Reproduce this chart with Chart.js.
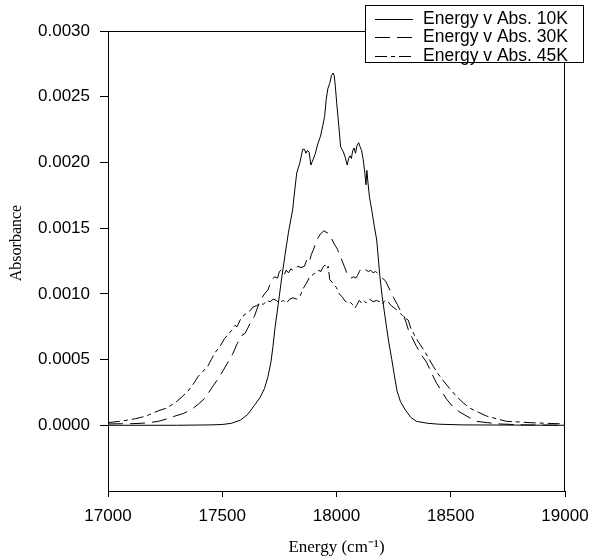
<!DOCTYPE html>
<html><head><meta charset="utf-8">
<script src="https://cdn.jsdelivr.net/npm/chart.js@4/dist/chart.umd.min.js"></script>
<style>html,body{margin:0;padding:0;background:#fff;}#wrap{width:590px;height:559px;position:relative;}</style>
</head><body><div id="wrap"><canvas id="c" width="590" height="559"></canvas></div>
<script>
// ---- data ----
const seriesLabels = ['Energy v Abs. 10K', 'Energy v Abs. 30K', 'Energy v Abs. 45K'];

const energy10 = [17000,17300,17450,17500,17540,17580,17610,17640,17665,17685,17700,17713,17722,17730,17745,17760,17775,17790,17808,17818,17826,17840,17852,17860,17866,17872,17880,17888,17897,17906,17918,17930,17940,17948,17955,17962,17970,17978,17985,17990,17995,18001,18010,18018,18024,18030,18038,18047,18053,18059,18065,18071,18077,18083,18090,18097,18103,18110,18117,18124,18129,18133,18137,18144,18154,18165,18176,18190,18200,18212,18228,18242,18255,18265,18280,18300,18325,18350,18400,18450,18550,19000];
const abs10 = [0,0,0.000003,0.000006,0.000015,0.00004,0.00008,0.00015,0.00021,0.00028,0.00037,0.00048,0.0006,0.00073,0.00092,0.00112,0.0013,0.00147,0.00164,0.0018,0.00192,0.002,0.0021,0.0021,0.00207,0.00209,0.00208,0.00198,0.00202,0.00206,0.00214,0.0022,0.00228,0.00235,0.00248,0.00256,0.0026,0.00266,0.00268,0.00266,0.00258,0.00245,0.00228,0.00212,0.0021,0.00208,0.00204,0.00198,0.00203,0.00205,0.00203,0.00209,0.00211,0.00207,0.00213,0.00215,0.00212,0.00209,0.00202,0.00192,0.00183,0.00194,0.00186,0.00174,0.00164,0.00152,0.00141,0.00113,0.00098,0.00083,0.00064,0.0005,0.00036,0.00026,0.00018,0.00012,0.00006,0.00003,0.000015,0.000008,0.000003,0];

const energy30 = [17000,17060,17100,17145,17180,17220,17260,17293,17330,17365,17395,17420,17437,17460,17481,17505,17525,17545,17565,17583,17600,17612,17628,17641,17655,17670,17685,17700,17715,17729,17742,17750,17758,17770,17780,17790,17800,17816,17830,17845,17860,17870,17880,17890,17900,17910,17920,17932,17945,17954,17965,17975,17990,18004,18015,18025,18034,18045,18055,18063,18075,18085,18092,18100,18110,18121,18130,18140,18150,18160,18170,18179,18190,18200,18214,18225,18236,18250,18266,18280,18295,18305,18314,18330,18350,18370,18394,18415,18438,18460,18481,18510,18540,18580,18613,18660,18716,18818,19000];
const abs30 = [0.00001,0.000012,0.000012,0.000015,0.00002,0.00003,0.00005,0.00007,0.00009,0.00012,0.00016,0.0002,0.00024,0.0003,0.00035,0.00042,0.00048,0.00054,0.00062,0.00068,0.0007,0.00074,0.0008,0.00083,0.0009,0.00096,0.001,0.00103,0.0011,0.00113,0.00112,0.00117,0.00118,0.00114,0.00118,0.00116,0.00119,0.00117,0.00121,0.0012,0.00121,0.00126,0.00124,0.0013,0.00134,0.00139,0.00143,0.00146,0.00148,0.00147,0.00146,0.00143,0.00138,0.00134,0.00129,0.00125,0.00121,0.00116,0.00113,0.00112,0.00113,0.00112,0.00114,0.00117,0.0012,0.00119,0.00118,0.00117,0.00118,0.00116,0.00117,0.00116,0.00115,0.00112,0.0011,0.00106,0.00102,0.00097,0.00092,0.00087,0.00083,0.00078,0.00073,0.00067,0.0006,0.00054,0.00048,0.0004,0.00032,0.00026,0.0002,0.00014,0.0001,0.00006,0.00003,0.00002,0.00001,0.000003,0];

const energy45 = [17000,17050,17087,17120,17145,17180,17220,17255,17293,17320,17350,17372,17394,17415,17437,17452,17467,17490,17510,17525,17540,17555,17565,17578,17590,17605,17621,17635,17650,17665,17680,17695,17710,17723,17737,17750,17765,17781,17795,17810,17825,17840,17854,17868,17883,17900,17919,17932,17940,17949,17958,17964,17970,17985,17999,18012,18028,18040,18057,18070,18080,18087,18100,18110,18120,18130,18145,18160,18175,18189,18200,18212,18225,18240,18255,18262,18280,18291,18305,18314,18325,18343,18360,18379,18400,18423,18445,18467,18495,18525,18555,18584,18620,18657,18700,18744,18800,18847,18920,19000];
const abs45 = [0.00002,0.00003,0.00004,0.00005,0.00006,0.00008,0.00011,0.00013,0.00017,0.00021,0.00026,0.00031,0.00037,0.00041,0.00045,0.0005,0.00055,0.0006,0.00066,0.00069,0.00072,0.00076,0.00075,0.0008,0.00083,0.00085,0.00087,0.0009,0.00091,0.00093,0.00092,0.00095,0.00094,0.00096,0.00095,0.00093,0.00095,0.00093,0.00096,0.00097,0.00096,0.00098,0.00104,0.00108,0.00113,0.00115,0.00118,0.00117,0.0012,0.00122,0.00119,0.00121,0.00111,0.00108,0.00105,0.001,0.00097,0.00094,0.00094,0.00092,0.00089,0.00091,0.00095,0.00093,0.00095,0.00093,0.00096,0.00094,0.00095,0.00094,0.00092,0.00095,0.00094,0.00091,0.00089,0.00088,0.00085,0.00083,0.00081,0.0008,0.00074,0.00068,0.00063,0.00058,0.00052,0.00045,0.00039,0.00034,0.00028,0.00022,0.00017,0.00013,0.0001,0.00007,0.00005,0.00003,0.000025,0.00002,0.000015,0.00001];

const xTickValues = [17000, 17500, 18000, 18500, 19000];
const yTickValues = [0, 0.0005, 0.001, 0.0015, 0.002, 0.0025, 0.003];
const xAxisTitle = 'Energy (cm\u207B\u00B9)';
const yAxisTitle = '         Absorbance';

// ---- build chart ----
const toPts = (xs, ys) => xs.map((x, i) => ({x: x, y: ys[i]}));
const dashes = [[], [15, 7], [12, 4, 4, 4]];
const sets = [[energy10, abs10], [energy30, abs30], [energy45, abs45]];

const SANS = '"Liberation Sans", Arial, sans-serif';
const SERIF = '"Liberation Serif", "Times New Roman", serif';

const framePlugin = {
  id: 'frame',
  afterDatasetsDraw(chart) {
    const {ctx, chartArea: a} = chart;
    ctx.save();
    ctx.strokeStyle = '#000';
    ctx.lineWidth = 1;
    ctx.beginPath();
    ctx.moveTo(Math.round(a.left) + 0.5, Math.round(a.top) + 0.5);
    ctx.lineTo(Math.round(a.right) - 0.5, Math.round(a.top) + 0.5);
    ctx.lineTo(Math.round(a.right) - 0.5, Math.round(a.bottom) + 0.5);
    ctx.stroke();
    ctx.restore();
  }
};

const legendPlugin = {
  id: 'boxLegend',
  afterDraw(chart) {
    const {ctx} = chart;
    const bx = 365.5, by = 5.5, bw = 218, bh = 57;
    ctx.save();
    ctx.fillStyle = '#fff';
    ctx.fillRect(bx, by, bw, bh);
    ctx.strokeStyle = '#000';
    ctx.lineWidth = 1;
    ctx.strokeRect(bx, by, bw, bh);
    ctx.font = '17.5px ' + SANS;
    ctx.textBaseline = 'middle';
    ctx.fillStyle = '#000';
    chart.data.datasets.forEach((ds, i) => {
      const y = Math.round(by + 13 + i * 18.5) + 0.5;
      ctx.setLineDash(ds.borderDash || []);
      ctx.beginPath();
      ctx.moveTo(375, y);
      ctx.lineTo(413, y);
      ctx.stroke();
      ctx.setLineDash([]);
      ctx.fillText(ds.label, 423, y);
    });
    ctx.restore();
  }
};

new Chart(document.getElementById('c'), {
  type: 'line',
  data: {
    datasets: sets.map((s, i) => ({
      label: seriesLabels[i],
      data: toPts(s[0], s[1]),
      borderColor: '#000',
      borderWidth: 1,
      borderDash: dashes[i],
      pointRadius: 0,
      tension: 0,
      fill: false
    }))
  },
  options: {
    responsive: false,
    devicePixelRatio: 1,
    animation: false,
    layout: {padding: {left: 0, right: 25, top: 31, bottom: 0}},
    plugins: {legend: {display: false}, tooltip: {enabled: false}},
    scales: {
      x: {
        type: 'linear', min: 17000, max: 19000,
        afterBuildTicks: s => { s.ticks = xTickValues.map(v => ({value: v})); },
        afterFit: s => { s.height = 68; s.paddingLeft = 0; s.paddingRight = 0; },
        ticks: {callback: v => String(v), color: '#000', font: {family: SANS, size: 17}, padding: 9, maxRotation: 0, autoSkip: false},
        grid: {drawOnChartArea: false, drawTicks: true, tickLength: 6, color: '#000', tickColor: '#000'},
        border: {display: true, color: '#000', width: 1},
        title: {display: true, text: xAxisTitle, color: '#000', font: {family: SERIF, size: 17}, padding: {top: 0, bottom: 1}}
      },
      y: {
        type: 'linear', min: -0.0005, max: 0.003,
        afterBuildTicks: s => { s.ticks = yTickValues.map(v => ({value: v})); },
        afterFit: s => { s.width = 108; s.paddingTop = 0; s.paddingBottom = 0; },
        ticks: {callback: v => Number(v).toFixed(4), color: '#000', font: {family: SANS, size: 17}, padding: 10, autoSkip: false},
        grid: {drawOnChartArea: false, drawTicks: true, tickLength: 8, color: '#000', tickColor: '#000'},
        border: {display: true, color: '#000', width: 1},
        title: {display: true, text: yAxisTitle, color: '#000', font: {family: SERIF, size: 16}, padding: {top: 7, bottom: 0}}
      }
    }
  },
  plugins: [framePlugin, legendPlugin]
});
</script></body></html>
